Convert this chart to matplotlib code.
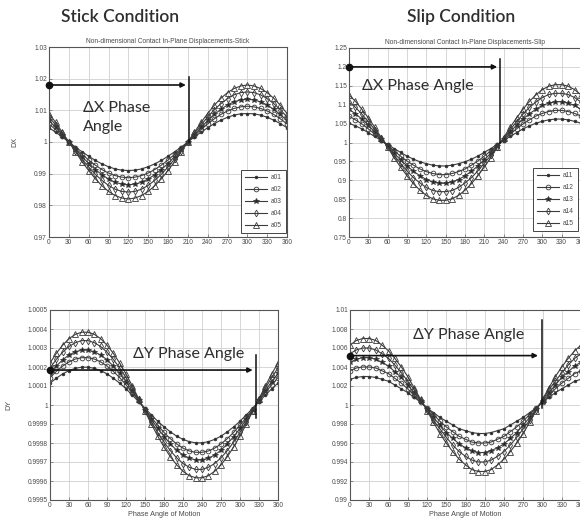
import numpy as np
import matplotlib.pyplot as plt

# phase angle of motion, degrees
theta = np.arange(0, 361, 10)

# DX, stick condition: deviation from 1 in units of 1e-4
dx_stick_a01 = [45, 31, 16, 0, -16, -31, -45, -58, -69, -78, -85, -89, -90, -89, -85, -78, -69, -58, -45,
                -31, -16, 0, 16, 31, 45, 58, 69, 78, 85, 89, 90, 89, 85, 78, 69, 58, 45]
dx_stick_a02 = [57, 39, 20, 0, -20, -39, -57, -73, -87, -98, -106, -111, -113, -111, -106, -98, -87, -73, -57,
                -39, -20, 0, 20, 39, 57, 73, 87, 98, 106, 111, 113, 111, 106, 98, 87, 73, 57]
dx_stick_a03 = [68, 46, 23, 0, -23, -46, -68, -87, -103, -117, -127, -133, -135, -133, -127, -117, -103, -87, -68,
                -46, -23, 0, 23, 46, 68, 87, 103, 117, 127, 133, 135, 133, 127, 117, 103, 87, 68]
dx_stick_a04 = [79, 54, 27, 0, -27, -54, -79, -102, -121, -137, -149, -156, -158, -156, -149, -137, -121, -102, -79,
                -54, -27, 0, 27, 54, 79, 102, 121, 137, 149, 156, 158, 156, 149, 137, 121, 102, 79]
dx_stick_a05 = [90, 62, 31, 0, -31, -62, -90, -116, -138, -156, -169, -177, -180, -177, -169, -156, -138, -116, -90,
                -62, -31, 0, 31, 62, 90, 116, 138, 156, 169, 177, 180, 177, 169, 156, 138, 116, 90]

# DX, slip condition: units of 1e-3
dx_slip_a11 = [51, 44, 36, 26, 16, 5, -5, -16, -26, -36, -44, -51, -56, -60, -62, -62, -60, -56, -51,
               -44, -36, -26, -16, -5, 5, 16, 26, 36, 44, 51, 56, 60, 62, 62, 60, 56, 51]
dx_slip_a12 = [70, 60, 49, 36, 22, 7, -7, -22, -36, -49, -60, -70, -77, -82, -85, -85, -82, -77, -70,
               -60, -49, -36, -22, -7, 7, 22, 36, 49, 60, 70, 77, 82, 85, 85, 82, 77, 70]
dx_slip_a13 = [88, 76, 62, 46, 28, 9, -9, -28, -46, -62, -76, -88, -98, -104, -108, -108, -104, -98, -88,
               -76, -62, -46, -28, -9, 9, 28, 46, 62, 76, 88, 98, 104, 108, 108, 104, 98, 88]
dx_slip_a14 = [107, 93, 75, 55, 34, 11, -11, -34, -55, -75, -93, -107, -119, -127, -130, -130, -127, -119, -107,
               -93, -75, -55, -34, -11, 11, 34, 55, 75, 93, 107, 119, 127, 130, 130, 127, 119, 107]
dx_slip_a15 = [126, 109, 88, 65, 40, 13, -13, -40, -65, -88, -109, -126, -140, -149, -153, -153, -149, -140, -126,
               -109, -88, -65, -40, -13, 13, 40, 65, 88, 109, 126, 140, 149, 153, 153, 149, 140, 126]

# DY, stick condition: units of 1e-6
dy_stick_a01 = [115, 141, 164, 181, 193, 199, 199, 193, 181, 164, 141, 115, 85, 52, 17, -17, -52, -85, -115,
                -141, -164, -181, -193, -199, -199, -193, -181, -164, -141, -115, -85, -52, -17, 17, 52, 85, 115]
dy_stick_a02 = [144, 177, 205, 227, 242, 249, 249, 242, 227, 205, 177, 144, 106, 65, 22, -22, -65, -106, -144,
                -177, -205, -227, -242, -249, -249, -242, -227, -205, -177, -144, -106, -65, -22, 22, 65, 106, 144]
dy_stick_a03 = [166, 205, 238, 263, 280, 289, 289, 280, 263, 238, 205, 166, 123, 75, 25, -25, -75, -123, -166,
                -205, -238, -263, -280, -289, -289, -280, -263, -238, -205, -166, -123, -75, -25, 25, 75, 123, 166]
dy_stick_a04 = [195, 240, 278, 308, 328, 339, 339, 328, 308, 278, 240, 195, 144, 88, 30, -30, -88, -144, -195,
                -240, -278, -308, -328, -339, -339, -328, -308, -278, -240, -195, -144, -88, -30, 30, 88, 144, 195]
dy_stick_a05 = [221, 272, 315, 349, 372, 383, 383, 372, 349, 315, 272, 221, 163, 100, 33, -33, -100, -163, -221,
                -272, -315, -349, -372, -383, -383, -372, -349, -315, -272, -221, -163, -100, -33, 33, 100, 163, 221]

# DY, slip condition: units of 1e-4
dy_slip_a11 = [27, 29, 30, 30, 29, 27, 25, 21, 17, 13, 8, 3, -3, -8, -13, -17, -21, -25, -27,
               -29, -30, -30, -29, -27, -25, -21, -17, -13, -8, -3, 3, 8, 13, 17, 21, 25, 27]
dy_slip_a12 = [36, 39, 40, 40, 39, 36, 33, 28, 23, 17, 10, 3, -3, -10, -17, -23, -28, -33, -36,
               -39, -40, -40, -39, -36, -33, -28, -23, -17, -10, -3, 3, 10, 17, 23, 28, 33, 36]
dy_slip_a13 = [45, 48, 50, 50, 48, 45, 41, 35, 29, 21, 13, 4, -4, -13, -21, -29, -35, -41, -45,
               -48, -50, -50, -48, -45, -41, -35, -29, -21, -13, -4, 4, 13, 21, 29, 35, 41, 45]
dy_slip_a14 = [54, 58, 60, 60, 58, 54, 49, 42, 34, 25, 16, 5, -5, -16, -25, -34, -42, -49, -54,
               -58, -60, -60, -58, -54, -49, -42, -34, -25, -16, -5, 5, 16, 25, 34, 42, 49, 54]
dy_slip_a15 = [63, 68, 70, 70, 68, 63, 57, 49, 40, 30, 18, 6, -6, -18, -30, -40, -49, -57, -63,
               -68, -70, -70, -68, -63, -57, -49, -40, -30, -18, -6, 6, 18, 30, 40, 49, 57, 63]

stick_labels = ['a01', 'a02', 'a03', 'a04', 'a05']
slip_labels = ['a11', 'a12', 'a13', 'a14', 'a15']

W, H = 580, 527
fig = plt.figure(figsize=(W / 100, H / 100), dpi=100)
fig.patch.set_facecolor('white')

TICK_FONT = 'Liberation Sans'
NOTE_FONT = 'Lato'
GREY = '#4a4a4a'


def px_axes(x0, y0, x1, y1):
    # axes box given in pixel coordinates from the top-left corner
    return fig.add_axes([x0 / W, 1 - y1 / H, (x1 - x0) / W, (y1 - y0) / H])


def matlab_style(ax, lo, hi, step):
    ax.set_xlim(0, 360)
    ax.set_xticks(range(0, 361, 30))
    ax.set_ylim(lo, hi)
    ticks = np.round(np.arange(lo, hi + step / 2, step), 6)
    ax.set_yticks(ticks)
    ax.set_yticklabels(['%g' % t for t in ticks])
    ax.grid(True, color='#d0d0d0', lw=0.6)
    ax.set_axisbelow(True)
    ax.tick_params(direction='in', length=2.5, width=0.5, labelsize=4.8,
                   color='#666666', labelcolor=GREY, pad=1.5)
    for lab in ax.get_xticklabels() + ax.get_yticklabels():
        lab.set_fontfamily(TICK_FONT)
    for s in ax.spines.values():
        s.set_color('#555555')
        s.set_linewidth(0.8)


markers = [('.', 3.8, True), ('o', 3.4, False), ('*', 3.8, True), ('d', 3.4, False), ('^', 4.0, False)]


def draw_series(ax, series, unit, labels):
    for vals, (m, ms, filled), lab in zip(series, markers, labels):
        y = 1 + unit * np.array(vals)
        ax.plot(theta, y, marker=m, ms=ms, color='#3c3c3c', lw=0.8,
                mfc='#222222' if filled else 'none', mec='#3a3a3a', mew=0.6, label=lab)


def add_legend(ax, x_right, y_bottom):
    leg = ax.legend(loc='lower right', bbox_to_anchor=(x_right, y_bottom),
                    prop={'family': TICK_FONT, 'size': 4.8}, fancybox=False,
                    edgecolor='#444444', framealpha=1, handlelength=3.3,
                    labelspacing=0.75, borderpad=0.6, handletextpad=0.6, borderaxespad=0)
    leg.get_frame().set_linewidth(0.7)
    for t in leg.get_texts():
        t.set_color(GREY)


def phase_arrow(ax, y, x_tip, x_line, y0, y1):
    ax.annotate('', xy=(x_tip, y), xytext=(0, y),
                arrowprops=dict(arrowstyle='-|>', color='#111111', lw=1.2,
                                mutation_scale=7, shrinkA=0, shrinkB=0))
    ax.plot([0], [y], 'o', color='#111111', ms=4.5, clip_on=False, zorder=5)
    ax.plot([x_line, x_line], [y0, y1], color='#111111', lw=1.1, zorder=5)


# ---- DX stick ----
ax1 = px_axes(49, 47, 287, 237)
matlab_style(ax1, 0.97, 1.03, 0.01)
draw_series(ax1, [dx_stick_a01, dx_stick_a02, dx_stick_a03, dx_stick_a04, dx_stick_a05], 1e-4, stick_labels)
add_legend(ax1, 0.995, 0.02)
phase_arrow(ax1, 1.018, 207, 212, 1.0, 1.0205)
ax1.set_title('Non-dimensional Contact In-Plane Displacements-Stick', fontsize=4.8,
              color=GREY, family=TICK_FONT, pad=3)
ax1.set_ylabel('DX', fontsize=5.2, color=GREY, family=TICK_FONT)
ax1.yaxis.set_label_coords(-0.13, 0.5)

# ---- DX slip ----
ax2 = px_axes(349, 48, 581, 237)
matlab_style(ax2, 0.75, 1.25, 0.05)
draw_series(ax2, [dx_slip_a11, dx_slip_a12, dx_slip_a13, dx_slip_a14, dx_slip_a15], 1e-3, slip_labels)
add_legend(ax2, 0.985, 0.03)
phase_arrow(ax2, 1.2, 230, 235, 1.0, 1.222)
ax2.set_title('Non-dimensional Contact In-Plane Displacements-Slip', fontsize=4.8,
              color=GREY, family=TICK_FONT, pad=3)

# ---- DY stick ----
ax3 = px_axes(50, 310, 278, 500)
matlab_style(ax3, 0.9995, 1.0005, 0.0001)
draw_series(ax3, [dy_stick_a01, dy_stick_a02, dy_stick_a03, dy_stick_a04, dy_stick_a05], 1e-6, stick_labels)
phase_arrow(ax3, 1.000184, 320, 326, 0.99993, 1.000263)
ax3.set_ylabel('DY', fontsize=5.2, color=GREY, family=TICK_FONT)
ax3.yaxis.set_label_coords(-0.165, 0.5)
ax3.set_xlabel('Phase Angle of Motion', fontsize=5.2, color=GREY, family=TICK_FONT, labelpad=1.5)

# ---- DY slip ----
ax4 = px_axes(350, 310, 581, 500)
matlab_style(ax4, 0.99, 1.01, 0.002)
draw_series(ax4, [dy_slip_a11, dy_slip_a12, dy_slip_a13, dy_slip_a14, dy_slip_a15], 1e-4, slip_labels)
phase_arrow(ax4, 1.0052, 293, 299, 0.9997, 1.0089)
ax4.set_xlabel('Phase Angle of Motion', fontsize=5.2, color=GREY, family=TICK_FONT, labelpad=1.5)


# headings and phase-angle notes
def note(x, y, s, size=11.5, ha='left', weight='normal'):
    fig.text(x / W, 1 - y / H, s, fontsize=size, family=NOTE_FONT, color='#2e2e2e',
             ha=ha, va='center', weight=weight)


note(120, 17, 'Stick Condition', size=12.5, ha='center', weight='semibold')
note(461, 17, 'Slip Condition', size=12.5, ha='center', weight='semibold')
note(83, 108, '\u0394X Phase')
note(83, 127, 'Angle')
note(362, 86, '\u0394X Phase Angle')
note(133, 354, '\u0394Y Phase Angle')
note(413, 335, '\u0394Y Phase Angle')

fig.savefig('out.png', dpi=100)
